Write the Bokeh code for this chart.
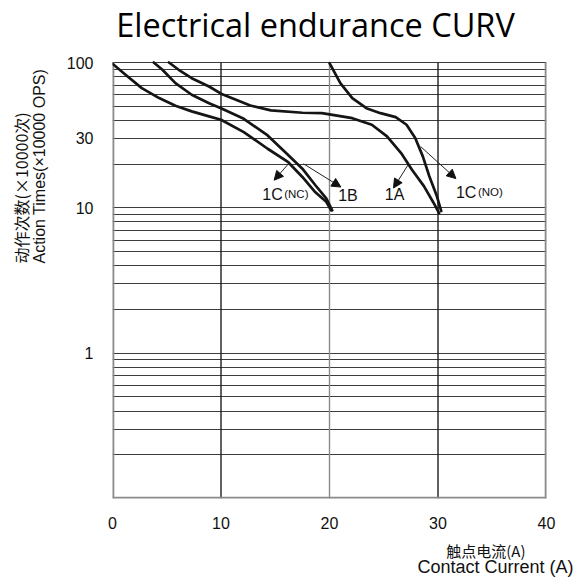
import numpy as np
from bokeh.plotting import figure
from bokeh.models import FixedTicker, Label, Arrow, NormalHead, Range1d, Title
from bokeh.embed import file_html
from bokeh.resources import INLINE

# ---------------- data ----------------
title_text = "Electrical endurance CURV"
y_label_cn = "动作次数(×10000次)"
y_label_en = "Action Times(×10000 OPS)"
x_label_cn = "触点电流(A)"
x_label_en = "Contact Current (A)"

x_ticks = [0, 10, 20, 30, 40]
y_ticks = [1, 10, 30, 100]
y_tick_labels = ["1", "10", "30", "100"]
x_min, x_max = 0, 40
y_min, y_max = 0.1, 100
x_grid_lines = [10, 20, 30]
y_grid_lines = [0.2, 0.3, 0.4, 0.5, 0.6, 0.7, 0.8, 0.9,
                1, 2, 3, 4, 5, 6, 7, 8, 9,
                10, 20, 30, 40, 50, 60, 70, 80, 90, 100]

# curves: contact current (A) vs operations (x10000)
x_1c_nc = [0, 1.2, 2.7, 4.3, 5.8, 7.3, 8.9, 10.0, 12.1, 14.3, 16.2, 17.5, 18.7, 19.7, 20.15]
y_1c_nc = [98, 82.3, 66.6, 56.9, 50.4, 46.1, 42.6, 40.4, 33.2, 25.5, 20.6, 16.3, 12.8, 11.0, 9.6]
x_1b = [3.8, 4.6, 5.8, 7.3, 8.9, 10.0, 12.1, 14.3, 15.9, 17.5, 18.7, 19.7, 20.25]
y_1b = [100, 89.1, 72.1, 60.0, 52.5, 48.5, 41.0, 31.5, 24.2, 18.6, 14.3, 11.6, 9.6]
x_1a = [5.2, 6.1, 7.3, 8.9, 10.0, 12.7, 14.6, 17.5, 19.3, 22.1, 23.9, 25.3, 26.6, 27.6, 28.7, 29.6, 30.1]
y_1a = [100, 89.1, 78.0, 68.4, 61.0, 50.6, 46.8, 45.1, 44.8, 41.4, 37.3, 31.0, 23.8, 18.3, 14.1, 10.8, 9.2]
x_1c_no = [20.0, 21.0, 22.1, 23.4, 24.7, 26.1, 27.1, 27.9, 28.6, 29.2, 29.9, 30.3]
y_1c_no = [99, 72.1, 56.9, 48.5, 44.8, 42.1, 37.3, 30.2, 22.6, 16.5, 12.0, 9.5]

# annotations (data units)
ann_main = ["1C", "1B", "1A", "1C"]
ann_sub = ["(NC)", "", "", "(NO)"]
ann_x = [13.8, 20.8, 25.1, 31.65]
ann_y = [12.4, 12.2, 12.3, 12.8]
arrow_x0 = [16.35, 17.6, 27.25, 28.4]
arrow_y0 = [20.6, 20.1, 19.8, 26.4]
arrow_x1 = [14.9, 21.05, 25.9, 31.65]
arrow_y1 = [15.5, 13.9, 13.7, 15.9]

# ---------------- layout ----------------
W = H = 577
border_left, border_right, border_bottom = 112, 31, 79
title_room = 62                       # pixels above the 100 line, kept inside the frame
chart_px = H - border_bottom - title_room
decade_px = chart_px / 3.0
y_top = y_max * 10 ** (title_room / decade_px)

p = figure(width=W, height=H, title=None,
           x_range=Range1d(x_min, x_max), y_range=Range1d(y_min, y_top),
           y_axis_type="log", output_backend="svg", toolbar_location=None,
           min_border_left=border_left, min_border_right=border_right,
           min_border_top=0, min_border_bottom=border_bottom)

p.background_fill_color = "white"
p.border_fill_color = "white"
p.outline_line_color = None

# horizontal grid lines
p.ygrid.ticker = FixedTicker(ticks=y_grid_lines)
p.ygrid.grid_line_color = "#3c3c3c"
p.ygrid.grid_line_width = 1.2
p.xgrid.visible = False

# vertical grid lines and chart border (limited to the chart area)
p.segment(x0=x_grid_lines, y0=[y_min] * 3, x1=x_grid_lines, y1=[y_max] * 3,
          line_color=["#1e1e1e", "#8a8a8a", "#1e1e1e"], line_width=1.4)
p.segment(x0=[x_min, x_max], y0=[y_min, y_min], x1=[x_min, x_max], y1=[y_max, y_max],
          line_color="#8a8a8a", line_width=3.6)
p.segment(x0=[x_min], y0=[y_min], x1=[x_max], y1=[y_min],
          line_color="#8a8a8a", line_width=3.6)

# axes
for ax in (p.xaxis[0], p.yaxis[0]):
    ax.axis_line_color = None
    ax.major_tick_line_color = None
    ax.minor_tick_line_color = None
    ax.major_tick_out = 0
    ax.major_tick_in = 0
    ax.minor_tick_out = 0
    ax.minor_tick_in = 0
    ax.major_label_text_font = "Liberation Sans"
    ax.major_label_text_font_size = "16px"
    ax.major_label_text_color = "#111111"

p.xaxis[0].ticker = FixedTicker(ticks=x_ticks)
p.xaxis[0].major_label_standoff = 18
p.yaxis[0].ticker = FixedTicker(ticks=y_ticks)
p.yaxis[0].major_label_overrides = {t: s for t, s in zip(y_ticks, y_tick_labels)}
p.yaxis[0].major_label_standoff = 19

# curves
for xs, ys in [(x_1c_nc, y_1c_nc), (x_1b, y_1b), (x_1a, y_1a), (x_1c_no, y_1c_no)]:
    p.line(xs, ys, line_color="#151515", line_width=2.7, line_join="round", line_cap="round")

# arrows + labels
for i in range(len(ann_main)):
    p.add_layout(Arrow(end=NormalHead(size=9, fill_color="#111111", line_color="#111111"),
                       x_start=arrow_x0[i], y_start=arrow_y0[i],
                       x_end=arrow_x1[i], y_end=arrow_y1[i],
                       line_color="#222222", line_width=1))
    p.add_layout(Label(x=ann_x[i], y=ann_y[i], text=ann_main[i],
                       text_font="Liberation Sans", text_font_size="16px",
                       text_color="#111111", text_baseline="middle"))
    if ann_sub[i]:
        p.add_layout(Label(x=ann_x[i], y=ann_y[i], x_offset=22, text=ann_sub[i],
                           text_font="Liberation Sans", text_font_size="11.5px",
                           text_color="#111111", text_baseline="middle"))

# chart title (inside the frame, above the chart area)
p.add_layout(Label(x=203, y=474.5, x_units="screen", y_units="screen", text=title_text,
                   text_font="Open Sans", text_font_size="32.5px", text_color="#000000",
                   text_align="center", text_baseline="middle"))

# axis titles in side panels
p.add_layout(Title(text=y_label_en, align="left", offset=235, standoff=31,
                   text_font="Liberation Sans", text_font_size="16px",
                   text_font_style="normal", text_color="#111111"), "left")
p.add_layout(Title(text=y_label_cn, align="left", offset=235, standoff=-38,
                   text_font="Noto Sans CJK SC", text_font_size="16px",
                   text_font_style="normal", text_color="#111111"), "left")
p.add_layout(Title(text=x_label_cn, align="right", offset=21, standoff=16,
                   vertical_align="top",
                   text_font="Noto Sans CJK SC", text_font_size="15px",
                   text_font_style="normal", text_color="#111111"), "below")
p.add_layout(Title(text=x_label_en, align="right", offset=-27, standoff=-27,
                   vertical_align="top",
                   text_font="Liberation Sans", text_font_size="18px",
                   text_font_style="normal", text_color="#111111"), "below")

open("out.html", "w").write(file_html(p, INLINE))
